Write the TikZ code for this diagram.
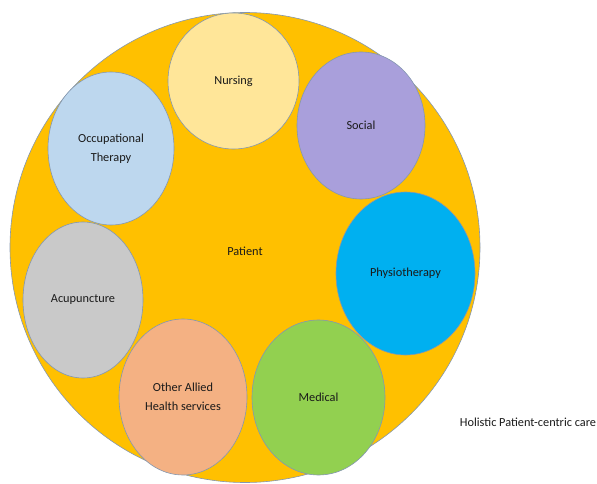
\documentclass[tikz,border=0pt]{standalone}
\usepackage{fontspec}
\setmainfont{Carlito}
\usepackage{tikz}
\usetikzlibrary{shapes.geometric,positioning}

\definecolor{care-orange}{HTML}{FFC000}
\definecolor{nursing-yellow}{HTML}{FFE699}
\definecolor{ot-blue}{HTML}{BDD7EE}
\definecolor{social-lilac}{HTML}{A99FDB}
\definecolor{physio-blue}{HTML}{00B0F0}
\definecolor{medical-green}{HTML}{92D050}
\definecolor{allied-peach}{HTML}{F4B183}
\definecolor{acu-grey}{HTML}{C9C9C9}
\definecolor{rim-grey}{HTML}{8497B0}
\definecolor{label-ink}{HTML}{1A1A1A}

\begin{document}
\begin{tikzpicture}[x=1pt, y=-1pt,
    every node/.style={font=\fontsize{12.3}{19}\selectfont, text=label-ink},
    service/.style={ellipse, draw=rim-grey, line width=0.6pt, align=center, inner sep=0pt}]
        \useasboundingbox (0,0) rectangle (597,484);

        % the patient at the centre
        \node[circle, fill=care-orange, draw=rim-grey, line width=0.6pt, minimum size=470] (patient-ring) at (245,247.5) {};
        \node (patient) at (245,251) {Patient};

        % the services round the patient
        \node[service, fill=nursing-yellow, minimum width=131, minimum height=136] (nursing) at (233.5,81) {Nursing};
        \node[service, fill=social-lilac, minimum width=128, minimum height=147] (social) at (361,125.5) {Social};
        \node[service, fill=physio-blue, minimum width=139, minimum height=163] (physio) at (405.5,273.5) {Physiotherapy};
        \node[service, fill=medical-green, minimum width=133, minimum height=155] (medical) at (318.5,397.5) {Medical};
        \node[service, fill=allied-peach, minimum width=128, minimum height=156] (allied) at (183,397) {Other Allied\\Health services};
        \node[service, fill=acu-grey, minimum width=120, minimum height=156] (acupuncture) at (83,300) {Acupuncture};
        \node[service, fill=ot-blue, minimum width=126, minimum height=153] (occupational) at (111,148.5) {Occupational\\Therapy};

        \node (caption) at (528,422) {Holistic Patient-centric care};
      \end{tikzpicture}
\end{document}
